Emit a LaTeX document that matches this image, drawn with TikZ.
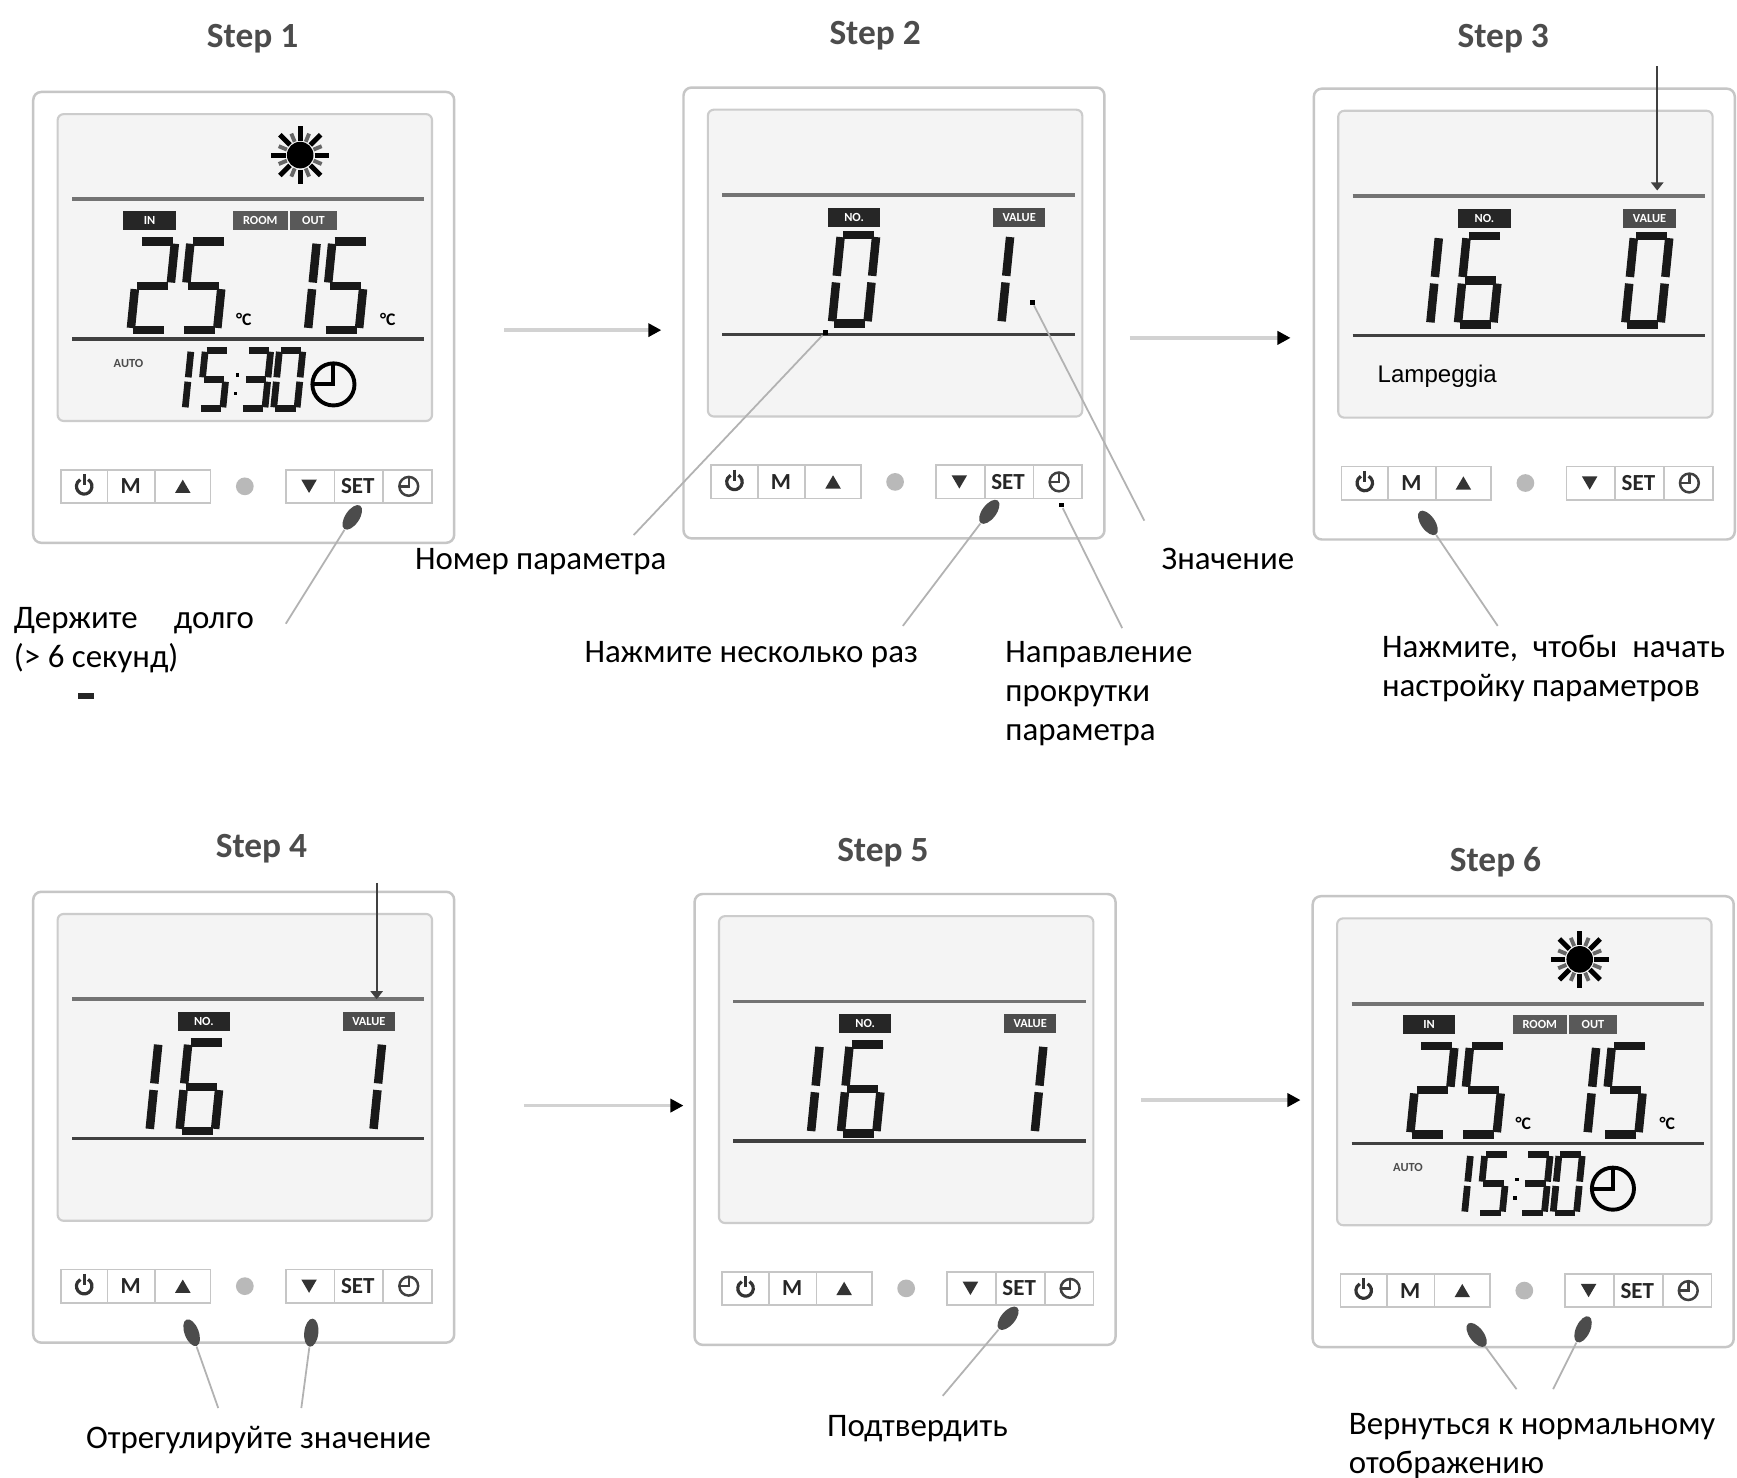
\documentclass[tikz,border=0pt]{standalone}
\usepackage{fontspec}
\setmainfont{Carlito}
\newfontfamily\lampfont{Liberation Sans}
\usetikzlibrary{arrows.meta,shapes.geometric}

% segments of one LCD digit, 32 wide and 80 high
\newcommand\segA{\draw[lcdseg] (2,-80) -- (30,-80);}
\newcommand\segB{\draw[lcdseg] (32,-78) -- (32,-43);}
\newcommand\segC{\draw[lcdseg] (32,-37) -- (32,-2);}
\newcommand\segD{\draw[lcdseg] (2,0) -- (30,0);}
\newcommand\segE{\draw[lcdseg] (0,-37) -- (0,-2);}
\newcommand\segF{\draw[lcdseg] (0,-78) -- (0,-43);}
\newcommand\segG{\draw[lcdseg] (2,-40) -- (30,-40);}

% [line width]{x}{y of bottom}{scale}{segments}
\newcommand\lcddigit[5][2.4pt]{%
  \begin{scope}[shift={(#2,#3)},xslant=0.1,scale=#4,lcdseg/.style={line width=#1,draw=black!90}]
    \foreach \s in {#5}{\csname seg\s\endcsname}
  \end{scope}}

\newcommand\clockicon[4][0.9pt]{%
  \draw[line width=#1] (#2,#3) circle (#4);
  \draw[line width=#1] (#2,#3-#4) -- (#2,#3) -- (#2-#4,#3);}

% thermostat body: {name}{x}{y}{screen content}
\newcommand\thermostat[4]{%
  \begin{scope}[shift={(#2,#3)}]
    \draw[casebox] (0,0) rectangle (380,407);
    \draw[lcdbox] (22,20) rectangle (360,297);
    \draw[topline] (35,97) -- (353,97);
    \draw[midline] (35,223) -- (353,223);
    \foreach \a/\b in {25/67,67/110,110/160,228/272,272/316,316/360}
      \draw[keycell] (\a,341) rectangle (\b,371);
    \draw[keyicon] (46,356) ++(300:7) arc[start angle=300,end angle=600,radius=7];
    \draw[keyicon] (46,345) -- (46,355);
    \node[keylabel] (#1-m) at (88,356) {M};
    \fill[black!80] (128,362) -- (142,362) -- (135,350) -- cycle;
    \fill[gray!55] (191,356) circle (8);
    \fill[black!80] (242,350) -- (256,350) -- (249,362) -- cycle;
    \node[keylabel] (#1-set) at (293,356) {SET};
    \begin{scope}[black!75]
      \clockicon[0.7pt]{339}{356}{8.5}
    \end{scope}
    #4
  \end{scope}}

\newcommand\homescreen{%
  \fill (241,57) circle (12);
  \foreach \t in {0,45,...,315} \draw[line width=1.4pt] (241,57) ++(\t:13) -- ++(\t:13);
  \foreach \t in {22.5,67.5,...,337.5} \draw[black!60,line width=1.1pt] (241,57) ++(\t:13) -- ++(\t:8);
  \node[tag] at (105,116) {IN};
  \node[tag,fill=black!65,minimum width=0.54cm] at (205,116) {ROOM};
  \node[tag,fill=black!65,minimum width=0.47cm] at (253,116) {OUT};
  \lcddigit{88}{215}{1}{A,B,G,E,D}
  \lcddigit{134}{215}{1}{A,F,G,C,D}
  \node[degunit] at (190,205) {°C};
  \lcddigit{216}{215}{1}{B,C}
  \lcddigit{262}{215}{1}{A,F,G,C,D}
  \node[degunit] at (320,205) {°C};
  \node[autolbl] at (86,245) {AUTO};
  \lcddigit[1.9pt]{116}{286}{0.66}{B,C}
  \lcddigit[1.9pt]{150}{286}{0.66}{A,F,G,C,D}
  \fill (183,254) rectangle ++(3,3);
  \fill (181,271) rectangle ++(3,3);
  \lcddigit[1.9pt]{188}{286}{0.66}{A,B,G,C,D}
  \lcddigit[1.9pt]{217}{286}{0.66}{A,B,C,D,E,F}
  \clockicon[1.1pt]{271}{264}{19}}

\newcommand\paramscreen{%
  \node[tag] at (154,117) {NO.};
  \node[tag,fill=black!70] at (303,117) {VALUE};}

\begin{document}
\begin{tikzpicture}[x=0.011cm, y=-0.011cm,
  casebox/.style={draw=gray!45, line width=0.7pt, fill=white, rounded corners=0.08cm},
  lcdbox/.style={draw=gray!40, line width=0.6pt, fill=gray!9, rounded corners=0.06cm},
  topline/.style={draw=black!55, line width=1.1pt},
  midline/.style={draw=black!75, line width=0.9pt},
  keycell/.style={draw=gray!45, line width=0.5pt, fill=white},
  keyicon/.style={draw=black!80, line width=0.9pt},
  keylabel/.style={font=\fontsize{6.5}{6.5}\selectfont\bfseries, text=black!85, inner sep=0pt},
  tag/.style={fill=black!85, text=white, font=\fontsize{3.5}{4}\selectfont\bfseries,
    minimum width=0.52cm, minimum height=0.19cm, inner sep=0pt},
  degunit/.style={font=\fontsize{5}{5}\selectfont\bfseries, inner sep=0pt},
  autolbl/.style={font=\fontsize{3.5}{4}\selectfont\bfseries, text=black!70, inner sep=0pt},
  steptitle/.style={font=\fontsize{10}{12}\selectfont\bfseries, text=black!70},
  lbl/.style={font=\fontsize{9.3}{11}\selectfont, anchor=west, align=left, inner sep=0pt},
  hand/.style={ellipse, fill=black!70, minimum width=0.28cm, minimum height=0.14cm, inner sep=0pt},
  pdot/.style={fill=black, minimum size=0.045cm, inner sep=0pt},
  pointer/.style={draw=gray!60, line width=0.5pt},
  steparrow/.style={draw=gray!35, line width=1pt, -{Triangle[length=0.13cm, width=0.13cm, color=black]}},
  valarrow/.style={draw=black!75, line width=0.6pt, -{Triangle[length=0.08cm, width=0.12cm]}}]

\fill[white] (0,0) rectangle (1568,1334);
\useasboundingbox (0,0) rectangle (1568,1334);

\node[steptitle] (t1) at (228,35) {Step 1};
\node[steptitle] (t2) at (790,32) {Step 2};
\node[steptitle] (t3) at (1357,35) {Step 3};
\node[steptitle] (t4) at (236,766) {Step 4};
\node[steptitle] (t5) at (797,770) {Step 5};
\node[steptitle] (t6) at (1350,778) {Step 6};

\thermostat{p1}{30}{83}{\homescreen}
\thermostat{p2}{617}{79}{\paramscreen
  \lcddigit{134}{213}{1}{A,B,C,D,E,F}
  \lcddigit{255}{213}{1}{B,C}}
\thermostat{p3}{1186}{80}{\paramscreen
  \lcddigit{73}{213}{1}{B,C}
  \lcddigit{130}{213}{1}{A,F,G,E,D,C}
  \lcddigit{281}{213}{1}{A,B,C,D,E,F}
  \node[font=\lampfont\fontsize{6.8}{8}\selectfont, anchor=west, inner sep=0pt] (p3-blink) at (57,260) {Lampeggia};}
\thermostat{p4}{30}{805}{\paramscreen
  \lcddigit{73}{216}{1}{B,C}
  \lcddigit{132}{216}{1}{A,F,G,E,D,C}
  \lcddigit{275}{216}{1}{B,C}}
\thermostat{p5}{627}{807}{\paramscreen
  \lcddigit{73}{216}{1}{B,C}
  \lcddigit{132}{216}{1}{A,F,G,E,D,C}
  \lcddigit{275}{216}{1}{B,C}}
\thermostat{p6}{1185}{809}{\homescreen}

% arrows between the steps
\coordinate (a12s) at (455,298);  \coordinate (a12e) at (597,298);
\coordinate (a23s) at (1020,305); \coordinate (a23e) at (1165,305);
\coordinate (a45s) at (473,998);  \coordinate (a45e) at (617,998);
\coordinate (a56s) at (1030,993); \coordinate (a56e) at (1174,993);
\draw[steparrow] (a12s) -- (a12e);
\draw[steparrow] (a23s) -- (a23e);
\draw[steparrow] (a45s) -- (a45e);
\draw[steparrow] (a56s) -- (a56e);

\coordinate (v3s) at (1496,60);  \coordinate (v3e) at (1496,172);
\coordinate (v4s) at (340,797);  \coordinate (v4e) at (340,902);
\draw[valarrow] (v3s) -- (v3e);
\draw[valarrow] (v4s) -- (v4e);

% fingers on the keys
\node[hand, rotate=56] (h1) at (318,467) {};
\node[hand, rotate=53] (h2) at (893,462) {};
\node[hand, rotate=125] (h3) at (1289,472) {};
\node[hand, rotate=111] (h4a) at (173,1203) {};
\node[hand, rotate=84] (h4b) at (281,1203) {};
\node[hand, rotate=50] (h5) at (910,1190) {};
\node[hand, rotate=127] (h6a) at (1333,1205) {};
\node[hand, rotate=65] (h6b) at (1429,1200) {};

\node[pdot] (d2no) at (745,300) {};
\node[pdot] (d2val) at (932,273) {};
\node[pdot] (d2clk) at (958,456) {};

% labels
\node[lbl] (l1) at (12,578) {Держите\hspace{1.1em}долго\\(> 6 секунд)};
\node[lbl] (l2) at (374,507) {Номер параметра};
\node[lbl] (l3) at (1048,505) {Значение};
\node[lbl] (l4) at (527,591) {Нажмите несколько раз};
\node[lbl] (l5) at (907,626) {Направление\\прокрутки\\параметра};
\node[lbl] (l6) at (1247,603) {Нажмите,\hspace{0.45em}чтобы\hspace{0.45em}начать\\настройку параметров};
\node[lbl] (l7) at (77,1300) {Отрегулируйте значение};
\node[lbl] (l8) at (746,1290) {Подтвердить};
\node[lbl] (l9) at (1217,1305) {Вернуться к нормальному\\отображению};
\fill[black!85] (70,626) rectangle (85,631);

% pointer lines
\coordinate (e1) at (258,563);
\coordinate (e2no) at (572,483);
\coordinate (e2val) at (1033,470);
\coordinate (e2set) at (815,565);
\coordinate (e2clk) at (1013,567);
\coordinate (e3) at (1352,565);
\coordinate (e4a) at (197,1271);
\coordinate (e4b) at (272,1271);
\coordinate (e5) at (851,1260);
\coordinate (e6a) at (1369,1254);
\coordinate (e6b) at (1402,1254);
\draw[pointer] (h1) -- (e1);
\draw[pointer] (d2no) -- (e2no);
\draw[pointer] (d2val) -- (e2val);
\draw[pointer] (h2) -- (e2set);
\draw[pointer] (d2clk) -- (e2clk);
\draw[pointer] (h3) -- (e3);
\draw[pointer] (h4a) -- (e4a);
\draw[pointer] (h4b) -- (e4b);
\draw[pointer] (h5) -- (e5);
\draw[pointer] (h6a) -- (e6a);
\draw[pointer] (h6b) -- (e6b);

\end{tikzpicture}
\end{document}
